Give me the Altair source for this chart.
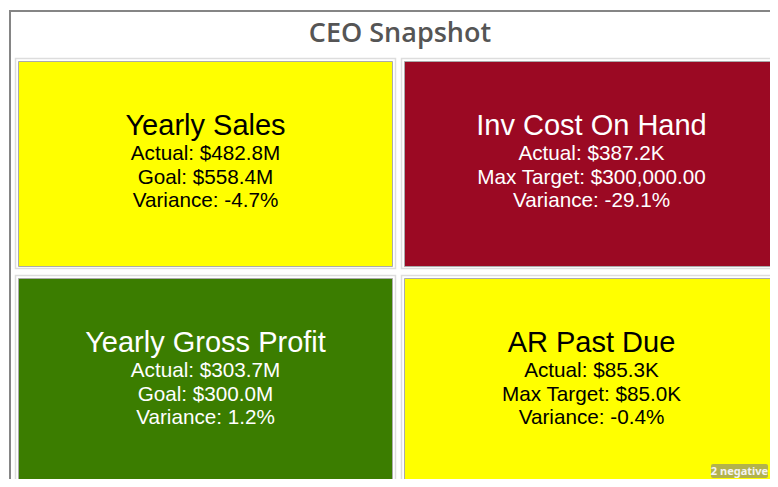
import altair as alt
import pandas as pd

# ---- data ----
titles = ["Yearly Sales", "Inv Cost On Hand", "Yearly Gross Profit", "AR Past Due"]
actuals = ["$482.8M", "$387.2K", "$303.7M", "$85.3K"]
target_names = ["Goal", "Max Target", "Goal", "Max Target"]
targets = ["$558.4M", "$300,000.00", "$300.0M", "$85.0K"]
variances = ["-4.7%", "-29.1%", "1.2%", "-0.4%"]
statuses = ["warning", "critical", "good", "warning"]
cols = [0, 1, 0, 1]
rows = [0, 0, 1, 1]
chart_title = "CEO Snapshot"
badge_text = "2 negative"

df = pd.DataFrame({
    "title": titles,
    "line1": ["Actual: " + a for a in actuals],
    "line2": [n + ": " + t for n, t in zip(target_names, targets)],
    "line3": ["Variance: " + v for v in variances],
    "status": statuses,
    "col": cols,
    "row": rows,
})

status_domain = ["warning", "critical", "good"]
fill_range = ["#FFFF00", "#9B0923", "#3B7D00"]
text_range = ["#000000", "#FFFFFF", "#FFFFFF"]

xs = alt.Scale(domain=[0, 2], range=[7.5, 779.5], nice=False, zero=False)
ys = alt.Scale(domain=[0, 2], range=[50.5, 484.5], nice=False, zero=False)

base = alt.Chart(df).transform_calculate(
    c0="datum.col", c1="datum.col + 1", cm="datum.col + 0.5",
    r0="datum.row", r1="datum.row + 1", rm="datum.row + 0.5",
)

box = base.mark_rect(
    fill="white", stroke="#dddddd", strokeWidth=1.5, x2Offset=-6, y2Offset=-7
).encode(
    x=alt.X("c0:Q", scale=xs, axis=None), x2="c1:Q",
    y=alt.Y("r0:Q", scale=ys, axis=None), y2="r1:Q",
)
tile = base.mark_rect(
    stroke="#aaaaaa", strokeWidth=1, xOffset=3, x2Offset=-9, yOffset=3, y2Offset=-9
).encode(
    x=alt.X("c0:Q", scale=xs, axis=None), x2="c1:Q",
    y=alt.Y("r0:Q", scale=ys, axis=None), y2="r1:Q",
    fill=alt.Fill("status:N", scale=alt.Scale(domain=status_domain, range=fill_range), legend=None),
)


def text_layer(field, size, dy):
    return base.mark_text(
        font="Liberation Sans", fontSize=size, dy=dy, baseline="alphabetic", align="center",
        xOffset=-3, yOffset=-3.5,
    ).encode(
        x=alt.X("cm:Q", scale=xs, axis=None),
        y=alt.Y("rm:Q", scale=ys, axis=None),
        text=alt.Text(f"{field}:N"),
        color=alt.Color("status:N", scale=alt.Scale(domain=status_domain, range=text_range), legend=None),
    )


heading = text_layer("title", 29, -28.5)
l1 = text_layer("line1", 20.7, -3.5)
l2 = text_layer("line2", 20.7, 20)
l3 = text_layer("line3", 20.7, 43.5)

one = alt.Chart(pd.DataFrame({"badge": [badge_text]}))
frame = one.mark_rect(fill=None, stroke="#858585", strokeWidth=2).encode(
    x=alt.value(2), x2=alt.value(792), y=alt.value(3), y2=alt.value(530)
)
badge_bg = one.mark_rect(fill="#7f7f7f", opacity=0.6, cornerRadius=2).encode(
    x=alt.value(703), x2=alt.value(760), y=alt.value(456), y2=alt.value(470)
)
badge = one.mark_text(
    font="Noto Sans", fontSize=11, fontWeight="bold", color="#f4f4f4", align="center", baseline="middle"
).encode(x=alt.value(731.5), y=alt.value(463.5), text="badge:N")

chart = alt.layer(frame, box, tile, heading, l1, l2, l3, badge_bg, badge).properties(
    width=762,
    height=471,
    padding=0,
    autosize=alt.AutoSizeParams(type="none"),
    title=alt.TitleParams(
        chart_title, font="Open Sans", fontSize=27, fontWeight=600, color="#555555",
        anchor="middle", frame="group", offset=-40, dx=11,
    ),
).configure_view(stroke=None)

chart.save("out.html", embed_options={"renderer": "svg", "actions": False})
